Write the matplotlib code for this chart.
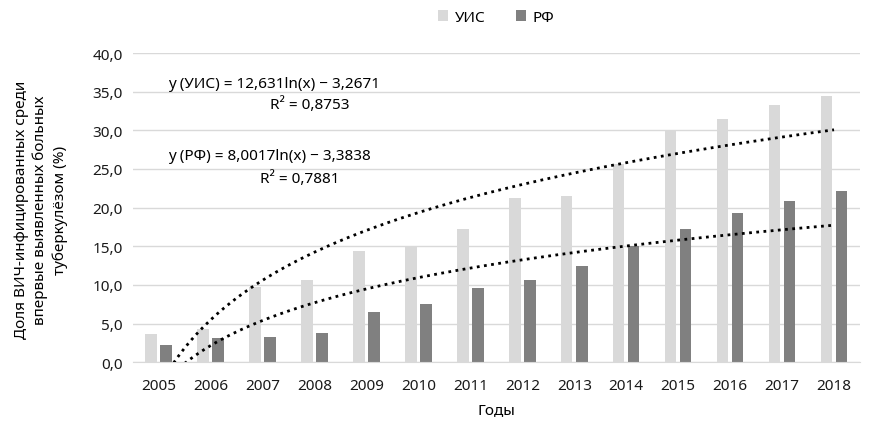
import numpy as np
import matplotlib
matplotlib.use("Agg")
import matplotlib.pyplot as plt

plt.rcParams['font.family'] = ['Noto Sans', 'DejaVu Sans']

years = ['2005', '2006', '2007', '2008', '2009', '2010', '2011',
         '2012', '2013', '2014', '2015', '2016', '2017', '2018']
uis = [3.7, 4.3, 9.7, 10.6, 14.4, 14.9, 17.2, 21.3, 21.5, 25.7, 30.0, 31.5, 33.3, 34.5]
rf = [2.3, 3.2, 3.3, 3.8, 6.5, 7.6, 9.6, 10.7, 12.5, 15.1, 17.3, 19.3, 20.9, 22.2]

# коэффициенты логарифмических трендов (из подписи на графике)
uis_a, uis_b = 12.631, -3.2671
rf_a, rf_b = 8.0017, -3.3838

W, H = 882, 435
fig = plt.figure(figsize=(W / 100, H / 100), dpi=100)
ax = fig.add_axes([132.7 / W, 1 - 363.3 / H, (860 - 132.7) / W, (363.3 - 54) / H])

x = np.arange(len(years))
bw = 0.22
ax.bar(x - 0.145, uis, bw, color='#d9d9d9', label='УИС', zorder=2)
ax.bar(x + 0.145, rf, bw, color='#808080', label='РФ', zorder=2)

t = np.linspace(1, len(years), 300)
ax.plot(t - 1, uis_a * np.log(t) + uis_b, color='black', ls=(0, (1, 1.6)), lw=2, zorder=3)
ax.plot(t - 1, rf_a * np.log(t) + rf_b, color='black', ls=(0, (1, 1.6)), lw=2, zorder=3)

ax.set_xlim(-0.5, len(years) - 0.5)
ax.set_ylim(0, 40)
ax.set_yticks(np.arange(0, 41, 5))
ax.set_yticklabels([f'{v:.1f}'.replace('.', ',') for v in np.arange(0, 41, 5)])
ax.set_xticks(x)
ax.set_xticklabels(years)
ax.tick_params(length=0, labelsize=11, colors='#1a1a1a', pad=7)
ax.tick_params(axis='x', pad=11)
ax.grid(axis='y', color='#d9d9d9', lw=1, zorder=0)
for s in ['top', 'right', 'left']:
    ax.spines[s].set_visible(False)
ax.spines['bottom'].set_color('#d9d9d9')

ax.set_xlabel('Годы', fontsize=11, labelpad=7)
fig.text(41 / W, 1 - 210 / H,
         'Доля ВИЧ-инфицированных среди\nвпервые выявленных больных\nтуберкулёзом (%)',
         rotation=90, ha='center', va='center', fontsize=11, linespacing=1.3)

fig.text(168 / W, 1 - 85 / H, 'y (УИС) = 12,631ln(x) − 3,2671', fontsize=11, va='center')
fig.text(310 / W, 1 - 105 / H, 'R² = 0,8753', fontsize=11, va='center', ha='center')
fig.text(168 / W, 1 - 157 / H, 'y (РФ) = 8,0017ln(x) − 3,3838', fontsize=11, va='center')
fig.text(300 / W, 1 - 179 / H, 'R² = 0,7881', fontsize=11, va='center', ha='center')

fig.legend(loc='center', bbox_to_anchor=(496 / W, 1 - 18 / H), ncol=2, frameon=False,
           fontsize=11, handlelength=0.7, handleheight=0.7, columnspacing=2.0, handletextpad=0.4)

fig.savefig('out.png', dpi=100, facecolor='white')
